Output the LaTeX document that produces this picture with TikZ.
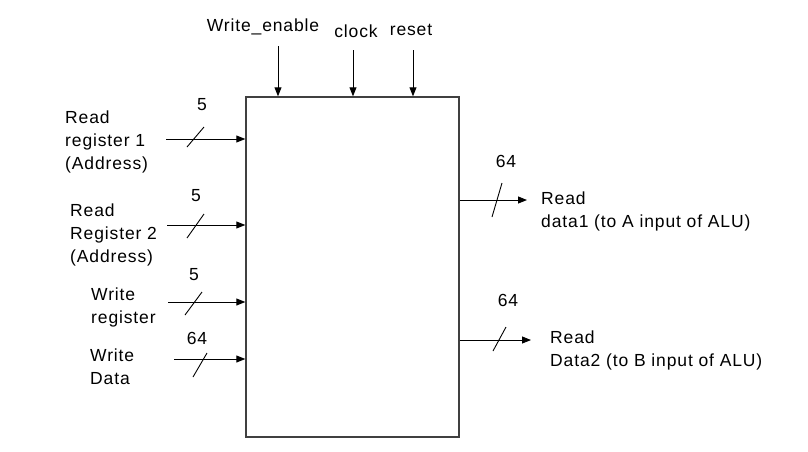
\documentclass[tikz,border=0pt]{standalone}
\usepackage{fontspec}
\setmainfont[LetterSpace=5]{Liberation Sans}
\usetikzlibrary{arrows.meta}

\tikzset{
  sig/.style={-{Triangle[length=9pt,width=7pt]}, line width=0.9pt},
  bus/.style={line width=0.9pt},
  lbl/.style={inner sep=0pt, align=left, font=\fontsize{17.5}{23}\selectfont},
}

\begin{document}
\begin{tikzpicture}[x=1pt,y=-1pt]
    \useasboundingbox (0,0) rectangle (808,451);
    \node[draw=black!75, line width=1.4pt, minimum width=213pt, minimum height=340pt, inner sep=0pt] (rf) at (352.5,267) {};
    % control inputs on top
    \foreach \name/\x/\y/\lx/\ly/\txt in {we/278/46/263/27/Write\_enable, clk/353/50/356/31/clock, rst/413/50/411/30/reset} {
        \node[lbl] (\name-l) at (\lx,\ly) {\txt};
        \coordinate (\name) at (\x,\y);
        \draw[sig] (\name) -- (\name |- rf.north);
    }
    % register inputs on the left
    \foreach \name/\y/\xs/\sx/\sy/\dx/\dy/\w/\wx/\wy in {rr1/139/166/195.5/137/17/20/5/202/105, rr2/225/167/195.5/226/17/24/5/196/196, wr/302/168/193.5/303.5/17/23/5/194/275, wd/359/174/200/365/14/24/64/197/338} {
        \coordinate (\name) at (\xs,\y);
        \draw[sig] (\name) -- (\name -| rf.west);
        \coordinate (\name-s) at (\sx,\sy);
        \draw[bus] (\name-s) ++(-\dx/2,\dy/2) -- ++(\dx,-\dy);
        \node[lbl] (\name-w) at (\wx,\wy) {\w};
    }
    \node[lbl, anchor=west] (rr1-l) at (65,142) {Read\\register 1\\(Address)};
    \node[lbl, anchor=west] (rr2-l) at (70,235) {Read\\Register 2\\(Address)};
    \node[lbl, anchor=west] (wr-l) at (91,307) {Write\\register};
    \node[lbl, anchor=west] (wd-l) at (90,367) {Write\\Data};
    % data outputs on the right
    \foreach \name/\y/\xe/\sx/\sy/\dx/\dy/\w/\wx/\wy in {rd1/200/527/497/200/10/34/64/506/161, rd2/340/531/499.5/339/13/24/64/508/300} {
        \coordinate (\name) at (\xe,\y);
        \draw[sig] (rf.east |- \name) -- (\name);
        \coordinate (\name-s) at (\sx,\sy);
        \draw[bus] (\name-s) ++(-\dx/2,\dy/2) -- ++(\dx,-\dy);
        \node[lbl] (\name-w) at (\wx,\wy) {\w};
    }
    \node[lbl, anchor=west] (rd1-l) at (541,211) {Read\\data1 (to A input of ALU)};
    \node[lbl, anchor=west] (rd2-l) at (550,350) {Read\\Data2 (to B input of ALU)};
\end{tikzpicture}
\end{document}
